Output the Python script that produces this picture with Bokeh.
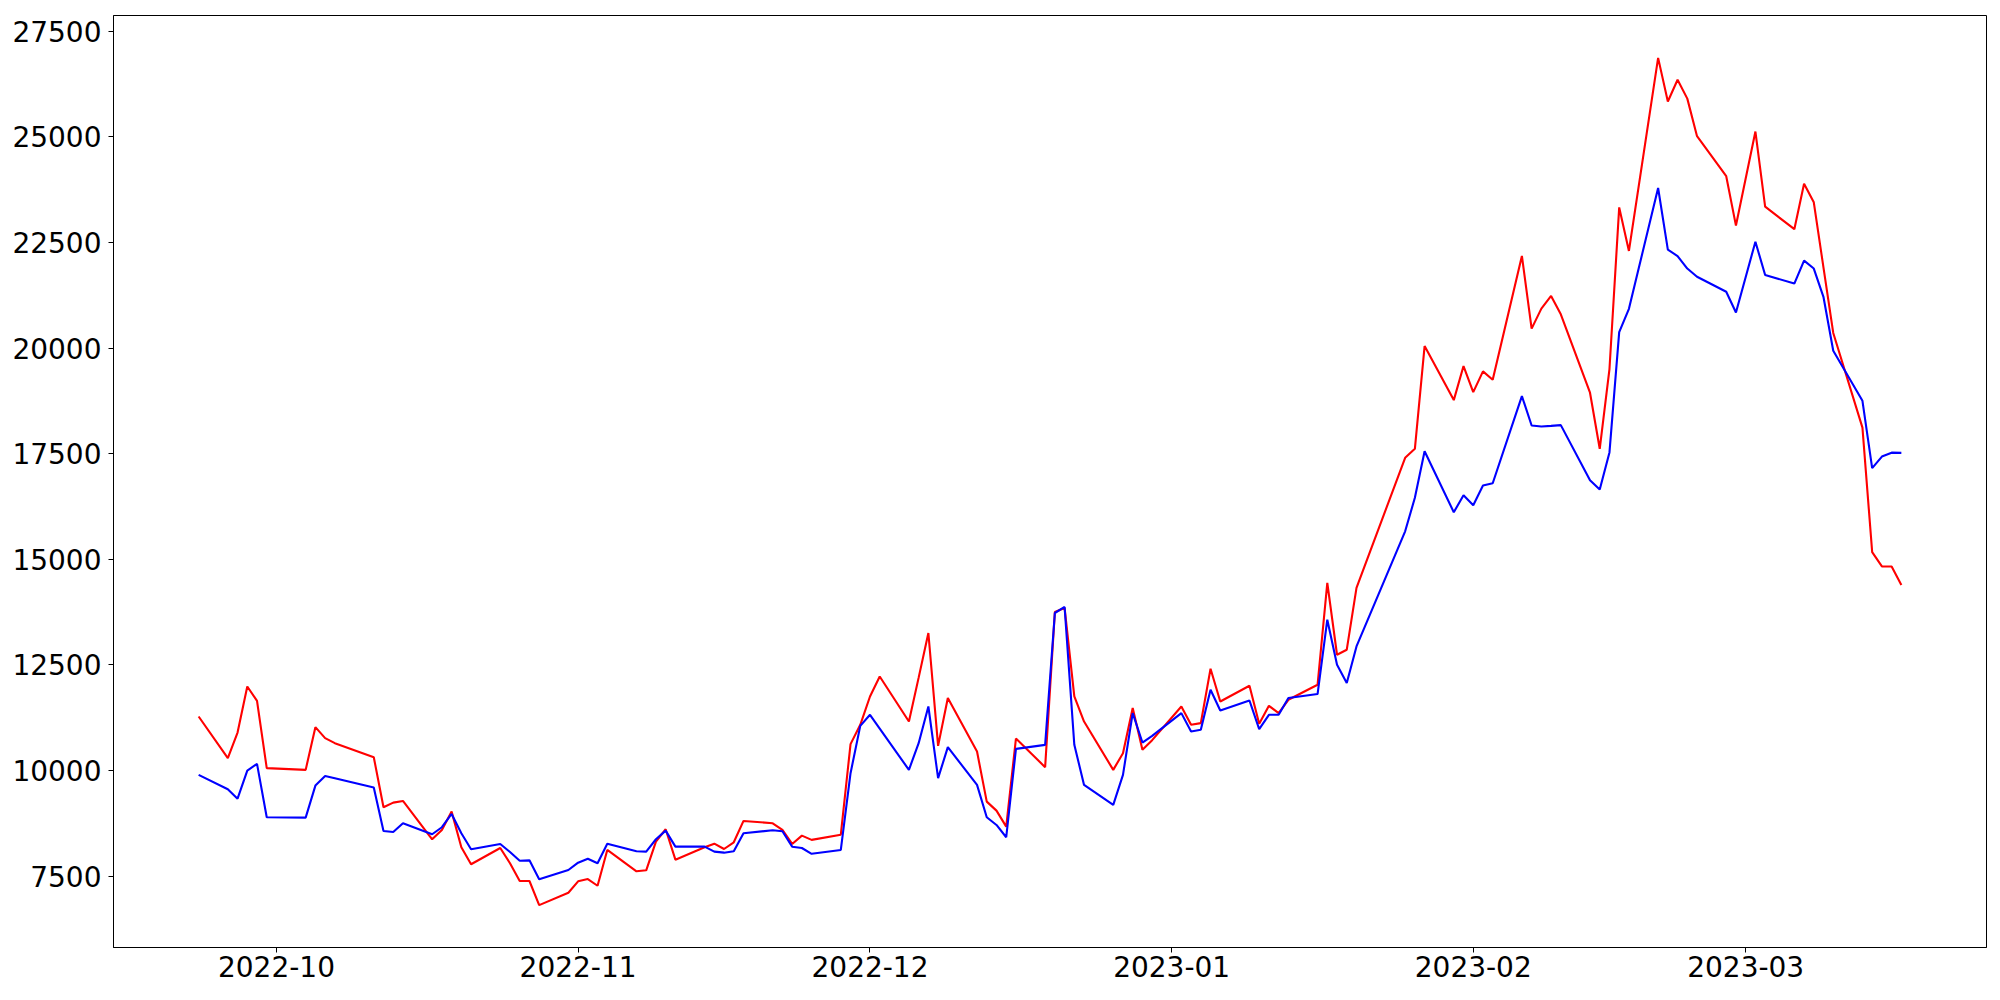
import pandas as pd
from bokeh.plotting import figure
from bokeh.models import FixedTicker, DatetimeTickFormatter, Range1d, ColumnDataSource
from bokeh.embed import file_html
from bokeh.resources import INLINE

dates = [
    "2022-09-23", "2022-09-26", "2022-09-27", "2022-09-28", "2022-09-29", "2022-09-30",
    "2022-10-04", "2022-10-05", "2022-10-06", "2022-10-07", "2022-10-11", "2022-10-12",
    "2022-10-13", "2022-10-14", "2022-10-17", "2022-10-18", "2022-10-19", "2022-10-20",
    "2022-10-21", "2022-10-24", "2022-10-25", "2022-10-26", "2022-10-27", "2022-10-28",
    "2022-10-31",
    "2022-11-01", "2022-11-02", "2022-11-03", "2022-11-04", "2022-11-07", "2022-11-08",
    "2022-11-09", "2022-11-10", "2022-11-11", "2022-11-14", "2022-11-15", "2022-11-16",
    "2022-11-17", "2022-11-18", "2022-11-21", "2022-11-22", "2022-11-23", "2022-11-24",
    "2022-11-25", "2022-11-28", "2022-11-29", "2022-11-30",
    "2022-12-01", "2022-12-02", "2022-12-05", "2022-12-06", "2022-12-07", "2022-12-08",
    "2022-12-09", "2022-12-12", "2022-12-13", "2022-12-14", "2022-12-15", "2022-12-16",
    "2022-12-19", "2022-12-20", "2022-12-21", "2022-12-22", "2022-12-23", "2022-12-26",
    "2022-12-27", "2022-12-28", "2022-12-29", "2022-12-30",
    "2023-01-02", "2023-01-03", "2023-01-04", "2023-01-05", "2023-01-06", "2023-01-09",
    "2023-01-10", "2023-01-11", "2023-01-12", "2023-01-13", "2023-01-16", "2023-01-17",
    "2023-01-18", "2023-01-19", "2023-01-20", "2023-01-25", "2023-01-26", "2023-01-27",
    "2023-01-30", "2023-01-31",
    "2023-02-01", "2023-02-02", "2023-02-03", "2023-02-06", "2023-02-07", "2023-02-08",
    "2023-02-09", "2023-02-10", "2023-02-13", "2023-02-14", "2023-02-15", "2023-02-16",
    "2023-02-17", "2023-02-20", "2023-02-21", "2023-02-22", "2023-02-23", "2023-02-24",
    "2023-02-27", "2023-02-28",
    "2023-03-02", "2023-03-03", "2023-03-06", "2023-03-07", "2023-03-08", "2023-03-09",
    "2023-03-10", "2023-03-13", "2023-03-14", "2023-03-15", "2023-03-16", "2023-03-17",
]

red_values = [
    11280, 10294, 10900, 11990, 11652, 10057,
    10017, 11028, 10767, 10649, 10317, 9133,
    9242, 9282, 8374, 8595, 9029, 8185,
    7782, 8168, 7805, 7386, 7386, 6815,
    7109,
    7379, 7433, 7274, 8121, 7616, 7639,
    8317, 8611, 7891, 8184, 8270, 8144,
    8303, 8808, 8753, 8595, 8263, 8460,
    8360, 8483, 10626, 11083,
    11754, 12228, 11161, 12200, 13256, 10585,
    11716, 10450, 9265, 9052, 8673, 10758,
    10081, 13754, 13849, 11754, 11161, 10017,
    10412, 11479, 10491, 10720,
    11517, 11083, 11123, 12410, 11635, 12007,
    11107, 11533, 11360, 11676, 12031, 14441,
    12742, 12861, 14323, 17404, 17617, 20049,
    18769, 19575,
    18959, 19449, 19252, 22182, 20461, 20935,
    21234, 20800, 18944, 17617, 19505, 23330,
    22300, 26870, 25836, 26353, 25905, 25016,
    24068, 22900,
    25125, 23348, 22815, 23891, 23450, 21900,
    20359, 18117, 15171, 14832, 14832, 14392,
]

blue_values = [
    9898, 9559, 9336, 10000, 10159, 8896,
    8886, 9645, 9874, 9819, 9597, 8571,
    8547, 8753, 8493, 8659, 8974, 8516,
    8137, 8263, 8073, 7867, 7875, 7426,
    7647,
    7820, 7914, 7805, 8270, 8090, 8082,
    8374, 8578, 8199, 8199, 8082, 8057,
    8090, 8516, 8587, 8563, 8199, 8168,
    8030, 8121, 9938, 11059,
    11320, 10994, 10017, 10649, 11517, 9820,
    10555, 9661, 8896, 8713, 8422, 10514,
    10609, 13730, 13873, 10609, 9661, 9187,
    9898, 11360, 10664, 10822,
    11360, 10924, 10965, 11913, 11422, 11659,
    10981, 11320, 11320, 11716, 11811, 13572,
    12505, 12071, 12939, 15664, 16456, 17560,
    16115, 16518,
    16281, 16747, 16802, 18864, 18169, 18146,
    18160, 18177, 16873, 16653, 17530, 20380,
    20930, 23789, 22331, 22179, 21883, 21689,
    21333, 20843,
    22518, 21731, 21528, 22070, 21883, 21205,
    19937, 18752, 17160, 17432, 17525, 17520,
]

x_tick_labels = ["2022-10", "2022-11", "2022-12", "2023-01", "2023-02", "2023-03"]
y_ticks = [7500, 10000, 12500, 15000, 17500, 20000, 22500, 25000, 27500]

assert len(dates) == len(red_values) == len(blue_values)

x_ms = [pd.Timestamp(d).value / 1e6 for d in dates]
src = ColumnDataSource(dict(x=x_ms, red=red_values, blue=blue_values))

xmin, xmax = min(x_ms), max(x_ms)
xpad = 0.05 * (xmax - xmin)
all_y = red_values + blue_values
ymin, ymax = min(all_y), max(all_y)
ypad = 0.05 * (ymax - ymin)

p = figure(
    frame_width=1873, frame_height=932,
    x_axis_type="datetime",
    x_range=Range1d(xmin - xpad, xmax + xpad),
    y_range=Range1d(ymin - ypad, ymax + ypad),
    output_backend="svg", toolbar_location=None, tools="",
)
p.min_border_left = 113
p.min_border_right = 14
p.min_border_top = 15
p.min_border_bottom = 53

p.line("x", "red", source=src, line_color="#ff0000", line_width=2.1)
p.line("x", "blue", source=src, line_color="#0000ff", line_width=2.1)

p.xaxis.ticker = FixedTicker(ticks=[pd.Timestamp(l + "-01").value / 1e6 for l in x_tick_labels])
fmt = "%Y-%m"
p.xaxis.formatter = DatetimeTickFormatter(
    milliseconds=fmt, seconds=fmt, minsec=fmt, minutes=fmt, hourmin=fmt, hours=fmt,
    days=fmt, months=fmt, years=fmt,
)
p.yaxis.ticker = FixedTicker(ticks=y_ticks)

for ax in (p.xaxis, p.yaxis):
    ax.major_label_text_font = "DejaVu Sans"
    ax.major_label_text_font_size = "28px"
    ax.major_label_text_color = "black"
    ax.major_tick_out = 5
    ax.major_tick_in = 0
    ax.minor_tick_out = 0
    ax.minor_tick_in = 0
    ax.major_tick_line_color = "black"
    ax.major_tick_line_width = 1
    ax.axis_line_color = "black"
    ax.axis_line_width = 1
p.xaxis.major_label_standoff = 3
p.yaxis.major_label_standoff = 7

p.xgrid.grid_line_color = None
p.ygrid.grid_line_color = None
p.outline_line_color = "black"
p.outline_line_width = 1
p.outline_line_alpha = 1
p.background_fill_color = "white"
p.border_fill_color = "white"

open("out.html", "w").write(file_html(p, INLINE))
